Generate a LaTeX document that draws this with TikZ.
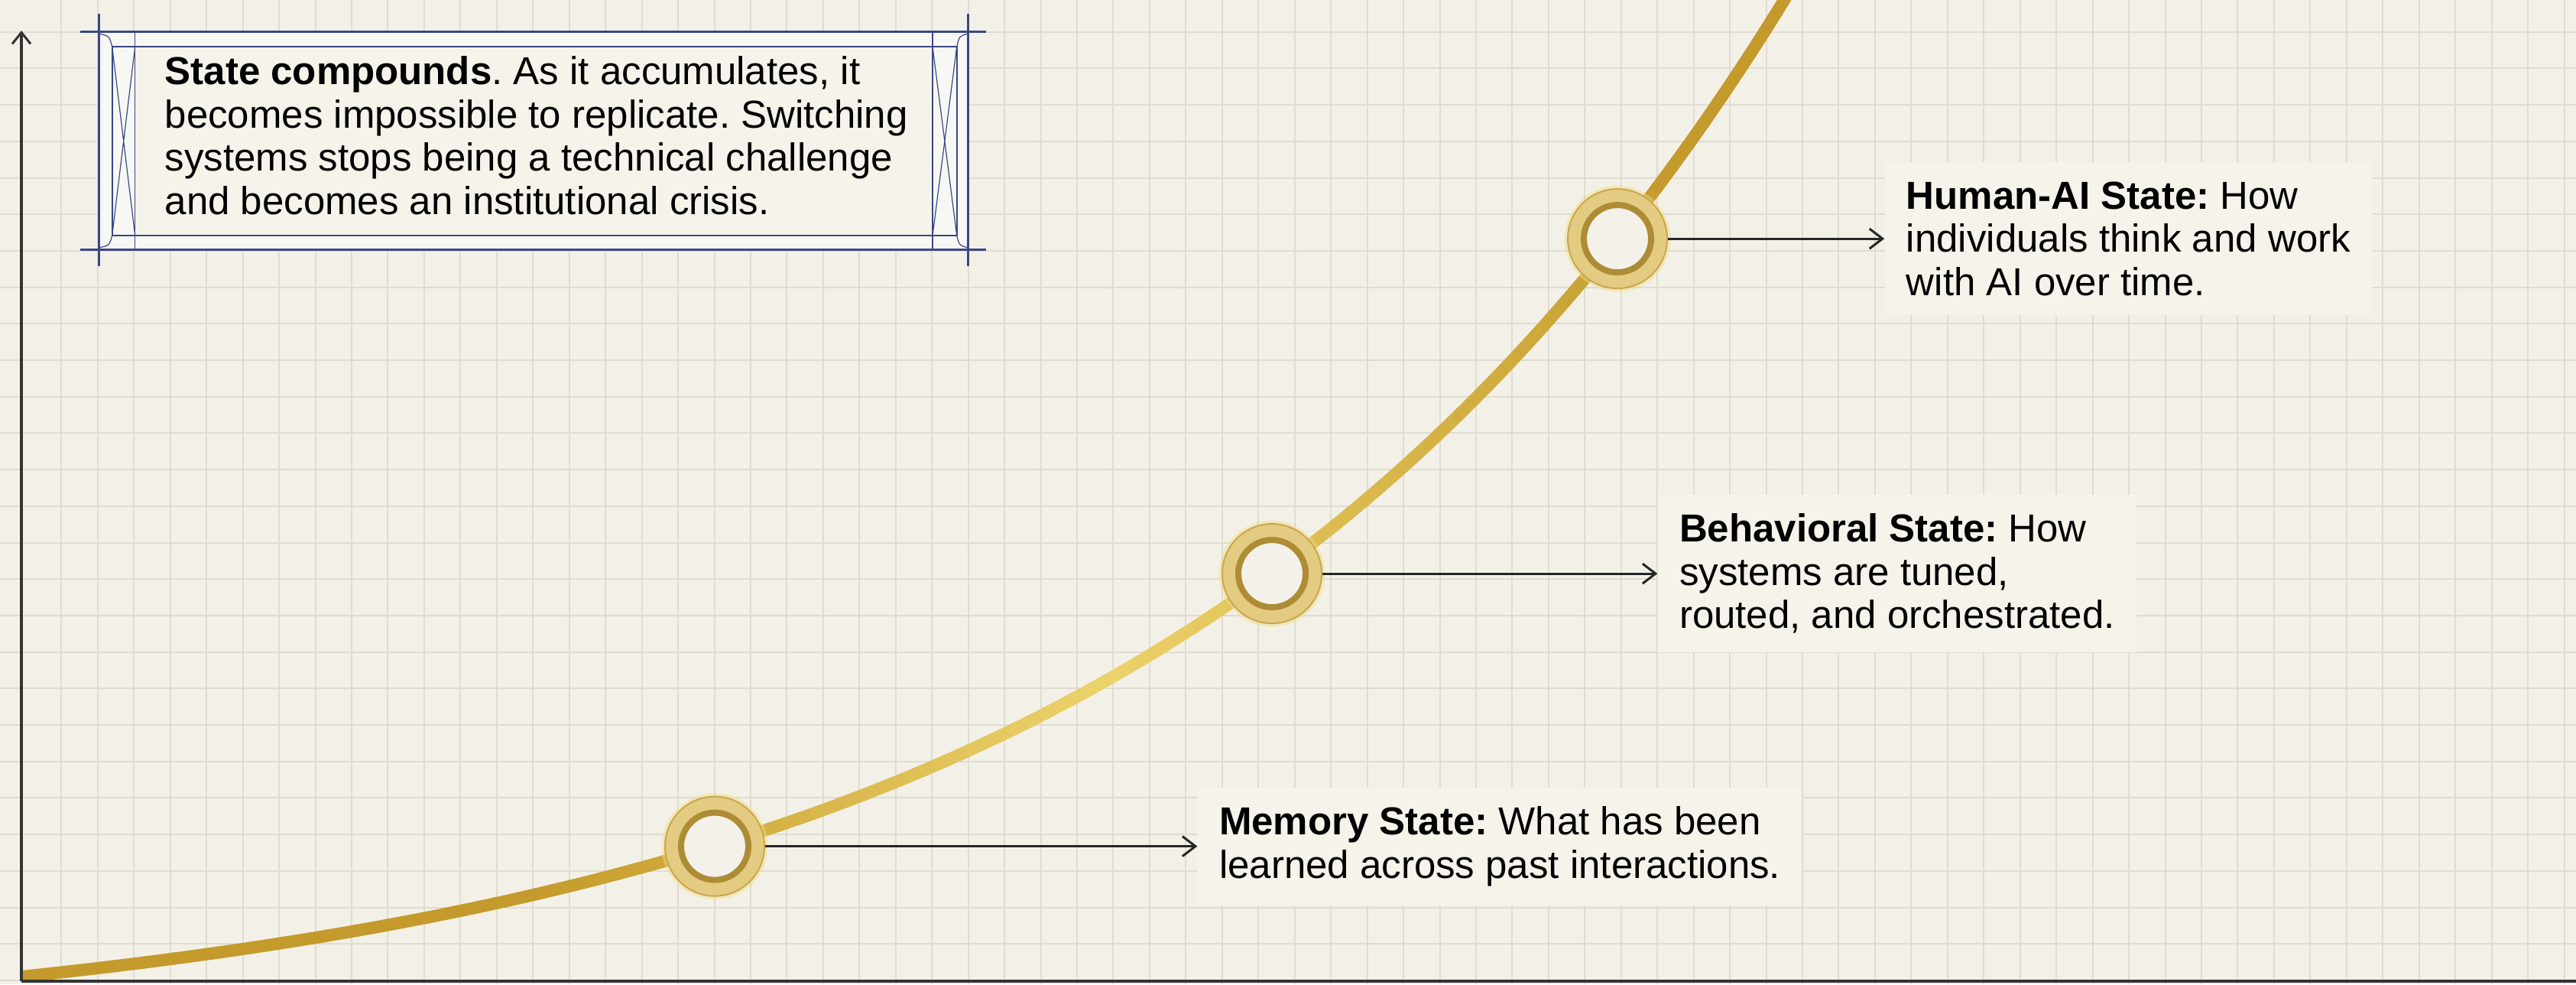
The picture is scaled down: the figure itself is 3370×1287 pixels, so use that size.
\documentclass[tikz,border=0pt]{standalone}
\usepackage{fontspec}
\setmainfont{Liberation Sans}
\frenchspacing
\usetikzlibrary{positioning,arrows.meta}

\definecolor{paper}{HTML}{F3F1E7}
\definecolor{paperlight}{HTML}{F5F3EA}
\definecolor{gridcol}{HTML}{DFDCD2}
\definecolor{golddark}{HTML}{C49A2C}
\definecolor{goldlight}{HTML}{EDD36B}
\definecolor{ringband}{HTML}{E3CB82}
\definecolor{ringedge}{HTML}{C9A84F}
\definecolor{ringdark}{HTML}{AE8C36}
\definecolor{ringcenter}{HTML}{F3F1E9}
\definecolor{ringglow}{HTML}{F2DE84}
\definecolor{framecol}{HTML}{3B4883}
\definecolor{framefill}{HTML}{F7F7F4}
\definecolor{axiscol}{HTML}{333333}

\tikzset{
  gridline/.style={gridcol, line width=0.02cm},
  axisline/.style={axiscol, line width=0.03cm},
  curve/.style={line width=0.16cm, line cap=round},
  milestone/.style={circle, minimum size=1.3cm, inner sep=0pt, fill=ringband, draw=ringedge, line width=0.02cm,
    preaction={draw=ringglow, line width=0.09cm, opacity=0.45},
    path picture={\draw[ringdark, line width=0.08cm, fill=ringcenter] (path picture bounding box.center) circle (0.44cm);}},
  statetext/.style={fill=paperlight, align=left, inner xsep=0.28cm, inner ysep=0.25cm,
    font=\fontsize{14.5pt}{16.1pt}\selectfont},
  notetext/.style={align=left, inner sep=0pt, font=\fontsize{14.5pt}{16.1pt}\selectfont},
  pointer/.style={-{Straight Barb[length=0.17cm,width=0.26cm]}, line width=0.03cm, black!85},
  frameline/.style={framecol, line width=0.025cm},
  framethin/.style={framecol, line width=0.012cm},
  declare function={growth(\x)=1277-87.7*(exp(0.001183*(\x-28))-1);}
}

\begin{document}
\begin{tikzpicture}[x=0.01cm, y=-0.01cm]
  % paper and grid
  \fill[paper] (0,0) rectangle (3370,1287);
  \useasboundingbox (0,0) rectangle (3370,1287);
  \foreach \i in {0,...,69}
    \draw[gridline] ({80.4+47.45*\i},0) -- ++(0,1287);
  \foreach \j in {0,...,26}
    \draw[gridline] (0,{41.7+47.7*\j}) -- ++(3370,0);

  % note box
  \fill[framefill] (129.3,41.7) rectangle (1266.7,326.7);
  \fill[paperlight] (176.7,61) rectangle (1220,308);
  \draw[frameline] (105,41.7) -- (1290,41.7);
  \draw[frameline] (105,326.7) -- (1290,326.7);
  \draw[frameline] (129.3,18) -- (129.3,348);
  \draw[frameline] (1266.7,18) -- (1266.7,348);
  \draw[framecol, line width=0.018cm] (146.7,61) rectangle (1251.7,308);
  \draw[framethin] (176.7,41.7) -- (176.7,326.7);
  \draw[framethin] (1220,41.7) -- (1220,326.7);
  \draw[framethin] (146.7,61) -- (176.7,308) (176.7,61) -- (146.7,308);
  \draw[framethin] (1220,61) -- (1251.7,308) (1251.7,61) -- (1220,308);
  \draw[framethin] (129.3,44) .. controls (143,47) .. (146.7,61);
  \draw[framethin] (129.3,324) .. controls (143,321) .. (146.7,308);
  \draw[framethin] (1266.7,44) .. controls (1255,47) .. (1251.7,61);
  \draw[framethin] (1266.7,324) .. controls (1255,321) .. (1251.7,308);
  \node[notetext, anchor=north west] (note) at (215,73)
    {\textbf{State compounds}. As it accumulates, it\\
     becomes impossible to replicate. Switching\\
     systems stops being a technical challenge\\
     and becomes an institutional crisis.};

  % growth curve, lighter in the middle
  \begin{scope}
    \clip (28,0) rectangle (3370,1287);
    \foreach \s in {0,...,117} {
      \pgfmathsetmacro{\xa}{28+20*\s}
      \pgfmathsetmacro{\xb}{\xa+20}
      \pgfmathtruncatemacro{\mix}{max(0,1-abs(\xa+10-1450)/750)*100}
      \draw[curve, goldlight!\mix!golddark] plot[domain=\xa:\xb, samples=3] (\x, {growth(\x)});
    }
  \end{scope}

  % axes
  \coordinate (origin) at (28,1283);
  \coordinate (ytip) at (28,40);
  \coordinate (xend) at (3370,1283);
  \draw[axisline, line width=0.04cm] (origin) -- (xend);
  \draw[axisline, -{Straight Barb[length=0.15cm,width=0.24cm]}] (origin) -- (ytip);

  % milestones
  \node[milestone] (mem) at (935,{growth(935)}) {};
  \node[milestone] (beh) at (1664,{growth(1664)}) {};
  \node[milestone] (hai) at (2116,{growth(2116)}) {};

  \node[statetext, right=5.65cm of mem] (memtxt)
    {\textbf{Memory State:} What has been\\learned across past interactions.};
  \node[statetext, right=4.38cm of beh] (behtxt)
    {\textbf{Behavioral State:} How\\systems are tuned,\\routed, and orchestrated.};
  \node[statetext, right=2.83cm of hai] (haitxt)
    {\textbf{Human-AI State:} How\\individuals think and work\\with AI over time.};

  \draw[pointer] (mem) -- (memtxt);
  \draw[pointer] (beh) -- (behtxt);
  \draw[pointer] (hai) -- (haitxt);
\end{tikzpicture}
\end{document}
